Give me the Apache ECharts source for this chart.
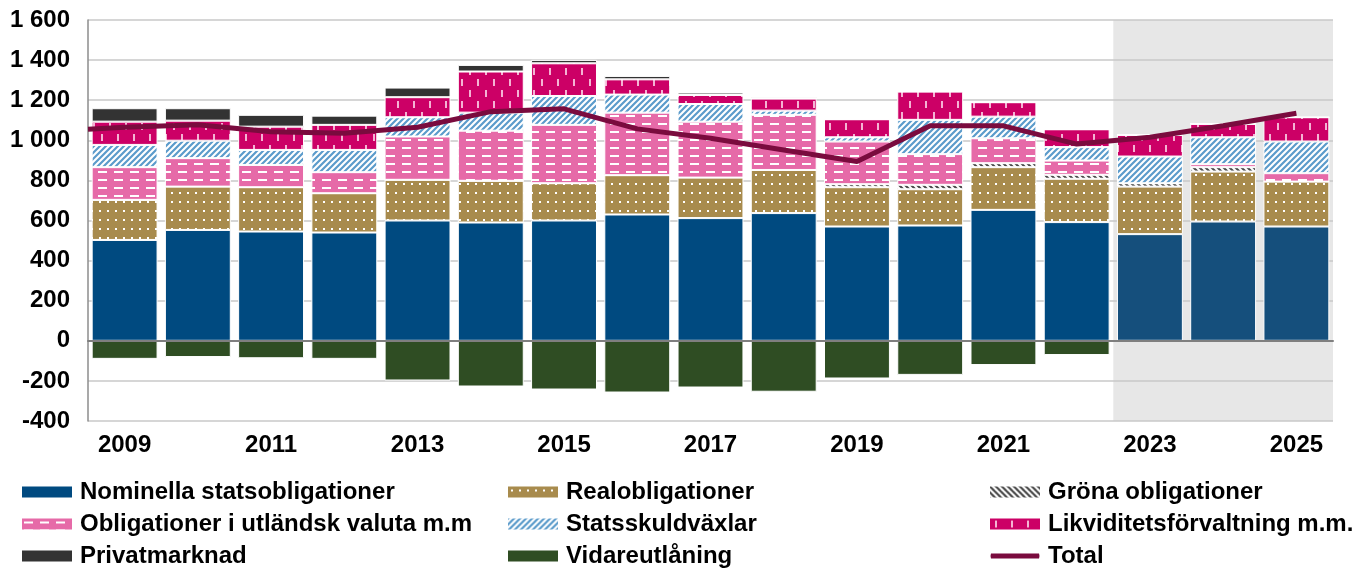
<!DOCTYPE html>
<html>
<head>
<meta charset="utf-8">
<script src="https://cdn.jsdelivr.net/npm/echarts@6/dist/echarts.min.js"></script>
<style>
html,body{margin:0;padding:0;background:#fff;}
#chart{width:1357px;height:569px;}
</style>
</head>
<body>
<div id="chart"></div>
<script>
// ---- data ----
const years = ['2009','2010','2011','2012','2013','2014','2015','2016','2017','2018','2019','2020','2021','2022','2023','2024','2025'];
const nominella = [503, 553, 545, 540, 600, 590, 600, 630, 612, 637, 570, 575, 653, 592, 532, 595, 570];
const realobl   = [200, 216, 221, 196, 203, 208, 186, 196, 202, 215, 196, 181, 213, 216, 237, 249, 224];
const grona     = [0, 0, 0, 0, 0, 0, 0, 0, 0, 0, 15, 22, 20, 20, 17, 22, 0];
const utlandsk  = [163, 142, 111, 105, 216, 250, 291, 312, 279, 275, 213, 153, 124, 71, 0, 15, 42];
const statsskuld= [111, 87, 75, 111, 96, 90, 144, 90, 88, 21, 21, 171, 108, 67, 133, 134, 158];
const likvid    = [116, 100, 116, 125, 100, 205, 163, 76, 45, 60, 90, 141, 72, 89, 108, 67, 121];
const privat    = [67, 62, 59, 46, 48, 33, 17, 17, 12, 7, 0, 0, 0, 0, 0, 0, 0];
const vidare    = [-90, -81, -87, -90, -198, -228, -243, -258, -233, -254, -188, -170, -121, -71, 0, 0, 0];
const total     = [1065, 1077, 1043, 1035, 1065, 1143, 1157, 1057, 1010, 952, 894, 1072, 1072, 981, 1015, 1073, 1135];
const totalLeftEdge = 1055;   // line value where it enters at the left plot edge
const forecastStart = 2023;
const yTicks = {min: -400, max: 1600, step: 200};

// ---- patterns ----
function pat(w, h, bg, draw) {
  const c = document.createElement('canvas');
  c.width = w; c.height = h;
  const x = c.getContext('2d');
  if (bg) { x.fillStyle = bg; x.fillRect(0, 0, w, h); }
  draw(x);
  return {image: c, repeat: 'repeat'};
}
const pReal = pat(8, 9, '#A88B4D', x => { x.fillStyle = '#fff'; x.fillRect(3, 3, 2, 2); });
const pUtl = pat(16, 8, '#E66AA8', x => { x.fillStyle = '#fff'; x.fillRect(2, 3, 9, 2); });
const pStats = pat(6, 6, '#fff', x => {
  x.strokeStyle = '#5B9BCB'; x.lineWidth = 2.2;
  x.beginPath(); x.moveTo(-1, 7); x.lineTo(7, -1); x.moveTo(-4, 4); x.lineTo(4, -4); x.moveTo(2, 10); x.lineTo(10, 2); x.stroke();
});
const pGrona = pat(6, 6, '#fff', x => {
  x.strokeStyle = '#4a4a4a'; x.lineWidth = 2.2;
  x.beginPath(); x.moveTo(-1, -1); x.lineTo(7, 7); x.moveTo(-4, 2); x.lineTo(4, 10); x.moveTo(2, -4); x.lineTo(10, 4); x.stroke();
});
const pLikvid = pat(16, 22, '#CC0066', x => {
  x.fillStyle = '#F4B3D3'; x.fillRect(5, 2, 2, 7); x.fillRect(13, 13, 2, 7);
});

const fIdx = years.indexOf(String(forecastStart));
const font = "'Liberation Sans', Arial, sans-serif";
const FS = 24;

function barSeries(name, data, color, extra) {
  return Object.assign({
    name, type: 'bar', stack: 'a', data, barCategoryGap: '10%', z: 2,
    itemStyle: {color, borderColor: '#ffffff', borderWidth: 1},
    emphasis: {disabled: true}
  }, extra || {});
}

const nominalData = nominella.map((v, i) => i >= fIdx ? {value: v, itemStyle: {color: '#154F7C'}} : v);
const totalData = [[0, totalLeftEdge]].concat(total.map((v, i) => [i + 0.5, v]));

const legendText = {fontSize: FS, fontWeight: 'bold', color: '#000', fontFamily: font, lineHeight: 24, padding: [0, 0, 0, 3]};
function legendCol(left, names) {
  return {orient: 'vertical', left, top: 480, height: 100, padding: 0, itemGap: 8,
    itemWidth: 50, itemHeight: 11, icon: 'rect', data: names, textStyle: legendText,
    itemStyle: {borderWidth: 0}, selectedMode: false};
}

const option = {
  animation: false,
  grid: {left: 88, right: 24, top: 20, bottom: 148, containLabel: false},
  xAxis: [
    {
      type: 'category', data: years, position: 'bottom',
      axisLine: {show: false, onZero: false}, axisTick: {show: false},
      axisLabel: {interval: 1, margin: 12, color: '#000', fontSize: FS, fontWeight: 'bold', fontFamily: font},
      splitLine: {show: false}
    },
    {
      type: 'value', min: 0, max: years.length, show: true, z: 3,
      axisLine: {show: true, onZero: true, lineStyle: {color: '#7f7f7f', width: 2}},
      axisTick: {show: false}, axisLabel: {show: false}, splitLine: {show: false}
    }
  ],
  yAxis: {
    type: 'value', min: yTicks.min, max: yTicks.max, interval: yTicks.step, z: 1.5,
    axisLine: {show: true, lineStyle: {color: '#8c8c8c', width: 1.5}},
    axisTick: {show: false},
    splitLine: {show: true, lineStyle: {color: '#c8c8c8', width: 1.5}},
    axisLabel: {
      margin: 18, color: '#000', fontSize: FS, fontWeight: 'bold', fontFamily: font,
      formatter: v => { const s = String(Math.abs(v)); const t = s.replace(/\B(?=(\d{3})+(?!\d))/g, ' '); return (v < 0 ? '-' : '') + t; }
    }
  },
  legend: [
    legendCol(22, ['Nominella statsobligationer', 'Obligationer i utländsk valuta m.m', 'Privatmarknad']),
    legendCol(508, ['Realobligationer', 'Statsskuldväxlar', 'Vidareutlåning']),
    legendCol(990, ['Gröna obligationer', 'Likviditetsförvaltning m.m.',
      {name: 'Total', icon: 'path://M0,0L0,0M1,3L49,3Q50,5.5 49,8L1,8Q0,5.5 1,3ZM50,11L50,11'}])
  ],
  series: [
    {
      name: 'forecast', type: 'line', xAxisIndex: 1, data: [], z: 1, silent: true,
      markArea: {
        silent: true, z: 1,
        itemStyle: {color: '#E7E7E7'},
        data: [[{xAxis: fIdx, yAxis: yTicks.min}, {xAxis: years.length, yAxis: yTicks.max}]]
      }
    },
    barSeries('Nominella statsobligationer', nominalData, '#004A80'),
    barSeries('Realobligationer', realobl, pReal),
    barSeries('Gröna obligationer', grona, pGrona),
    barSeries('Obligationer i utländsk valuta m.m', utlandsk, pUtl),
    barSeries('Statsskuldväxlar', statsskuld, pStats),
    barSeries('Likviditetsförvaltning m.m.', likvid, pLikvid),
    barSeries('Privatmarknad', privat, '#333333'),
    barSeries('Vidareutlåning', vidare, '#2F4D23'),
    {
      name: 'Total', type: 'line', xAxisIndex: 1, data: totalData, z: 4,
      showSymbol: false, symbol: 'none', smooth: false,
      lineStyle: {color: '#7A0B3E', width: 5},
      itemStyle: {color: '#7A0B3E'},
      emphasis: {disabled: true}
    }
  ]
};

const chart = echarts.init(document.getElementById('chart'), null, {renderer: 'canvas'});
chart.setOption(option);
</script>
</body>
</html>
